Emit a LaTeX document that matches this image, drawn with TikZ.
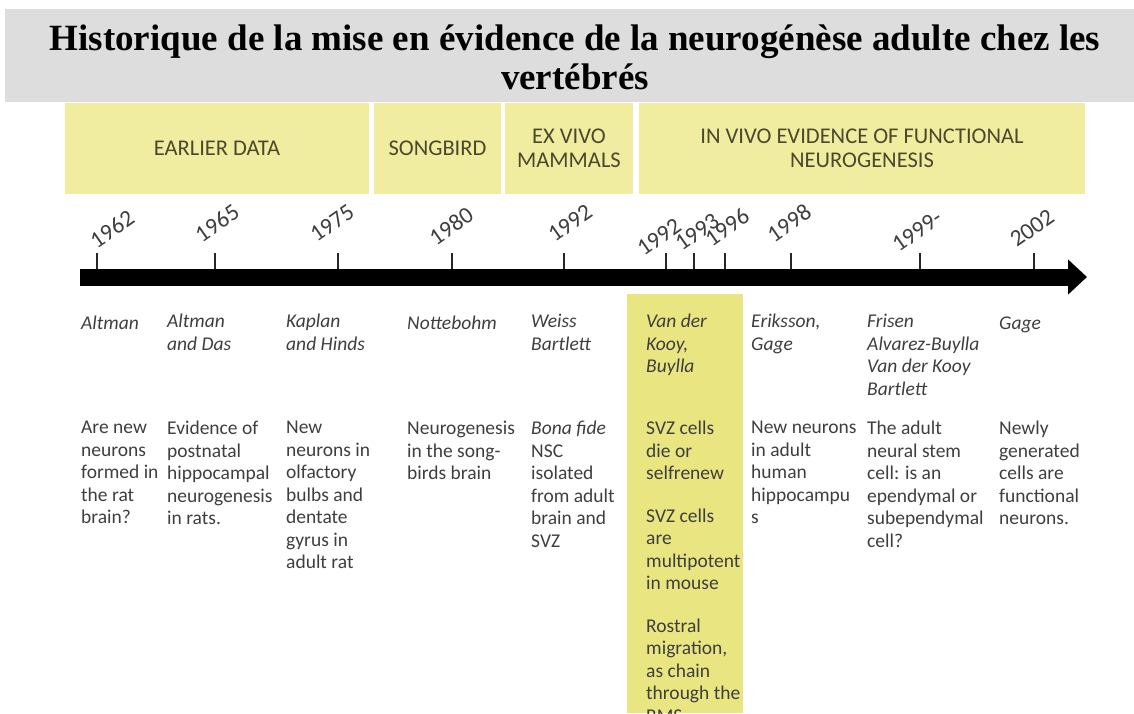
\documentclass[tikz,border=0pt]{standalone}
\usepackage{fontspec}
\setmainfont{Carlito}
\newfontfamily\titlefont{Liberation Serif}
\usetikzlibrary{arrows.meta}
\definecolor{bandgray}{RGB}{221,221,221}
\definecolor{hdryellow}{RGB}{240,237,160}
\definecolor{colyellow}{RGB}{233,230,130}
\definecolor{hdrtext}{RGB}{75,72,45}
\definecolor{bodytext}{RGB}{62,62,62}
\tikzset{
  period/.style={fill=hdryellow, text=hdrtext, align=center, inner sep=0pt,
    minimum height=91pt, font=\fontsize{22.5}{23.5}\selectfont},
  year/.style={rotate=35, text=bodytext, inner sep=0pt, font=\fontsize{23.5}{23.5}\selectfont},
  yeartick/.style={line width=2.5pt, black!85},
  who/.style={anchor=north west, align=left, inner sep=0pt, text=bodytext,
    font=\fontsize{19.5}{22.5}\selectfont\itshape, execute at begin node=\strut},
  what/.style={who, font=\fontsize{19.5}{22.5}\selectfont\upshape},
}

\begin{document}
\begin{tikzpicture}[x=1pt, y=-1pt]
    \useasboundingbox (0,0) rectangle (1134,713);
    % title band
    \fill[bandgray] (5,9) rectangle (1134,102);
    \node[anchor=north, align=center, inner sep=0pt, execute at begin node=\strut,
      font=\titlefont\fontsize{37}{39}\selectfont\bfseries] (title) at (575,24.5)
      {Historique de la mise en évidence de la neurogénèse adulte chez les\\vertébrés};
    % periods
    \node[period, minimum width=304pt] (earlier) at (217,148.5) {EARLIER DATA};
    \node[period, minimum width=127pt] (songbird) at (437.5,148.5) {SONGBIRD};
    \node[period, minimum width=128pt] (exvivo) at (569,148.5) {EX VIVO\\MAMMALS};
    \node[period, minimum width=446pt] (invivo) at (862,148.5) {IN VIVO EVIDENCE OF FUNCTIONAL\\NEUROGENESIS};
    % highlighted column (1992-1996)
    \fill[colyellow] (627,294) rectangle (743,713);
    % ticks and years
    \draw[yeartick] (97,253) -- (97,277);
    \node[year] (y62) at (112,229) {1962};
    \draw[yeartick] (215,253) -- (215,277);
    \node[year] (y65) at (217,223) {1965};
    \draw[yeartick] (338,253) -- (338,277);
    \node[year] (y75) at (332,223) {1975};
    \draw[yeartick] (452,253) -- (452,277);
    \node[year] (y80) at (451,226) {1980};
    \draw[yeartick] (564,253) -- (564,277);
    \node[year] (y92a) at (570,223) {1992};
    \draw[yeartick] (666,253) -- (666,277);
    \node[year] (y92b) at (659,237) {1992};
    \draw[yeartick] (694,253) -- (694,277);
    \node[year] (y93) at (697,232) {1993};
    \draw[yeartick] (725,253) -- (725,277);
    \node[year] (y96) at (727,227) {1996};
    \draw[yeartick] (791,253) -- (791,277);
    \node[year] (y98) at (789,223) {1998};
    \draw[yeartick] (920,253) -- (920,277);
    \node[year] (y99) at (917,231) {1999-};
    \draw[yeartick] (1034,253) -- (1034,277);
    \node[year] (y02) at (1032,228) {2002};
    % time axis
    \coordinate (tstart) at (80,277);
    \coordinate (tend) at (1087,277);
    \draw[line width=17pt, -{Triangle[length=19pt, width=34pt]}] (tstart) -- (tend);
    % authors
    \node[who] (altman) at (81,314) {Altman};
    \node[who] (altmandas) at (167,314) {Altman\\and Das};
    \node[who] (kaplan) at (286,314) {Kaplan\\and Hinds};
    \node[who] (notte) at (407,314) {Nottebohm};
    \node[who] (weiss) at (531,314) {Weiss\\Bartlett};
    \node[who] (kooy) at (646,314) {Van der\\Kooy,\\Buylla};
    \node[who] (eriksson) at (751,314) {Eriksson,\\Gage};
    \node[who] (frisen) at (867,314) {Frisen\\Alvarez-Buylla\\Van der Kooy\\Bartlett};
    \node[who] (gage) at (999,314) {Gage};
    % findings
    \node[what] (q62) at (81,421) {Are new\\neurons\\formed in\\the rat\\brain?};
    \node[what] (q65) at (167,421) {Evidence of\\postnatal\\hippocampal\\neurogenesis\\in rats.};
    \node[what] (q75) at (286,421) {New\\neurons in\\olfactory\\bulbs and\\dentate\\gyrus in\\adult rat};
    \node[what] (q80) at (407,421) {Neurogenesis\\in the song-\\birds brain};
    \node[what] (q92) at (531,421) {\textit{Bona fide}\\NSC\\isolated\\from adult\\brain and\\SVZ};
    \node[what] (q96) at (646,421) {SVZ cells\\die or\\selfrenew\\[20pt]SVZ cells\\are\\multipotent\\in mouse\\[20pt]Rostral\\migration,\\as chain\\through the\\RMS};
    \node[what] (q98) at (751,421) {New neurons\\in adult\\human\\hippocampu\\s};
    \node[what] (q99) at (867,421) {The adult\\neural stem\\cell: is an\\ependymal or\\subependymal\\cell?};
    \node[what] (q02) at (999,421) {Newly\\generated\\cells are\\functional\\neurons.};
\end{tikzpicture}
\end{document}
